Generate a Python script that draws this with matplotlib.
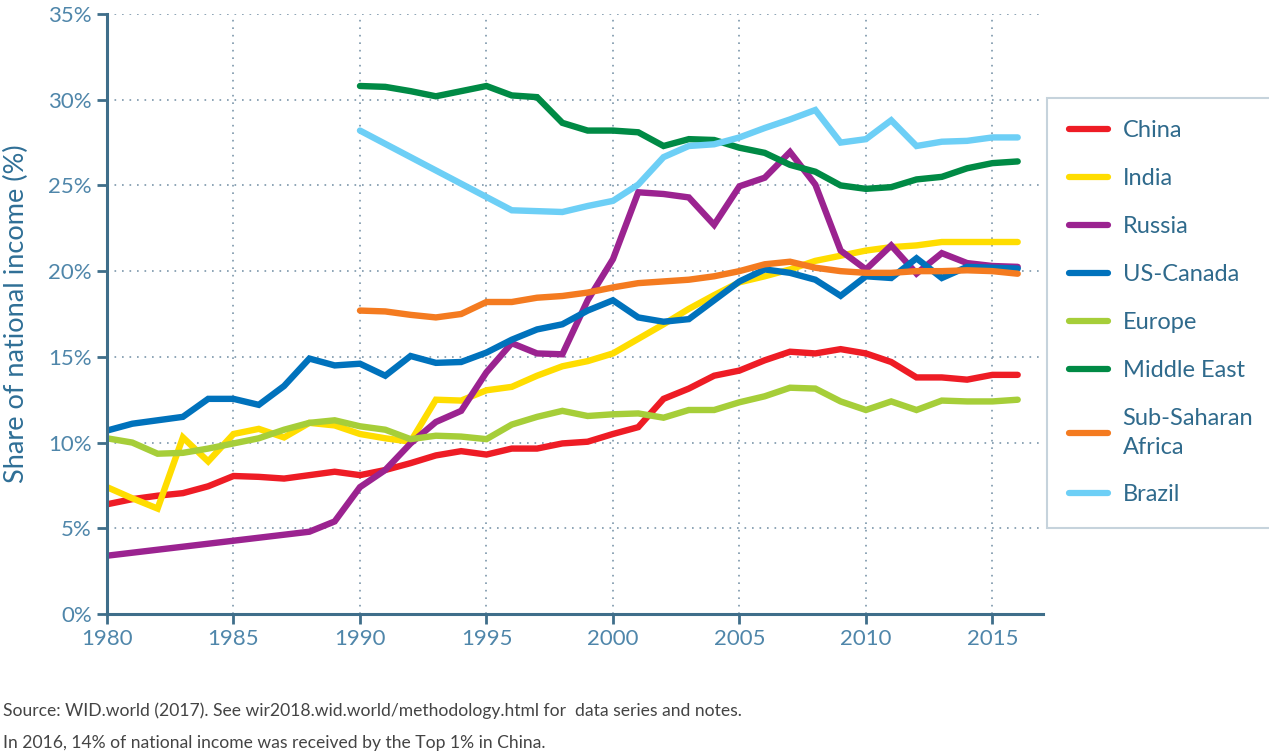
import matplotlib
matplotlib.use("Agg")
import matplotlib.pyplot as plt
from matplotlib.ticker import FuncFormatter, MultipleLocator

plt.rcParams['font.family'] = ['Lato', 'DejaVu Sans']

years_full = list(range(1980, 2017))
years_1990 = list(range(1990, 2017))

china = [6.4, 6.7, 6.9, 7.05, 7.45, 8.05, 8.0, 7.9, 8.1, 8.3,
         8.1, 8.4, 8.8, 9.25, 9.5, 9.3, 9.65, 9.65, 9.95, 10.05,
         10.5, 10.9, 12.55, 13.15, 13.9, 14.2, 14.8, 15.3, 15.2, 15.45,
         15.2, 14.7, 13.8, 13.8, 13.67, 13.95, 13.95]
india = [7.4, 6.75, 6.15, 10.3, 8.9, 10.5, 10.8, 10.3, 11.15, 11.0,
         10.5, 10.25, 10.05, 12.5, 12.45, 13.05, 13.25, 13.9, 14.45, 14.75,
         15.2, 16.05, 16.9, 17.8, 18.6, 19.35, 19.7, 20.1, 20.6, 20.9,
         21.2, 21.4, 21.5, 21.7, 21.7, 21.7, 21.7]
russia_years = [1980, 1988] + list(range(1989, 2017))
russia = [3.4, 4.8, 5.4,
          7.4, 8.4, 9.95, 11.2, 11.85, 14.1, 15.8, 15.2, 15.15, 18.3,
          20.7, 24.6, 24.5, 24.3, 22.7, 24.95, 25.45, 26.95, 25.05, 21.2,
          20.1, 21.5, 19.86, 21.05, 20.47, 20.3, 20.25]
us_canada = [10.7, 11.1, 11.3, 11.5, 12.55, 12.55, 12.2, 13.3, 14.9, 14.5,
             14.6, 13.9, 15.05, 14.65, 14.7, 15.25, 16.0, 16.6, 16.9, 17.7,
             18.3, 17.3, 17.05, 17.2, 18.3, 19.4, 20.1, 19.9, 19.5, 18.56,
             19.7, 19.6, 20.75, 19.6, 20.25, 20.2, 20.15]
europe = [10.25, 10.0, 9.35, 9.4, 9.65, 9.95, 10.25, 10.75, 11.15, 11.3,
          10.95, 10.75, 10.2, 10.4, 10.35, 10.2, 11.05, 11.5, 11.85, 11.55,
          11.65, 11.7, 11.45, 11.9, 11.9, 12.35, 12.7, 13.2, 13.15, 12.4,
          11.9, 12.4, 11.9, 12.45, 12.4, 12.4, 12.5]
middle_east = [30.8, 30.75, 30.5, 30.2, 30.5, 30.8, 30.25, 30.15, 28.65, 28.2,
               28.2, 28.1, 27.3, 27.7, 27.65, 27.2, 26.9, 26.2, 25.8, 25.0,
               24.8, 24.9, 25.35, 25.5, 26.0, 26.3, 26.4]
ssa = [17.7, 17.65, 17.45, 17.3, 17.5, 18.2, 18.2, 18.45, 18.55, 18.75,
       19.05, 19.3, 19.4, 19.5, 19.7, 20.0, 20.4, 20.55, 20.2, 20.0,
       19.9, 19.9, 20.0, 20.0, 20.05, 20.0, 19.85]
brazil_years = [1990] + list(range(1996, 2017))
brazil = [28.2, 23.55, 23.5, 23.45, 23.8, 24.1, 25.05, 26.65, 27.3, 27.4,
          27.8, 28.35, 28.85, 29.4, 27.5, 27.7, 28.8, 27.3, 27.55, 27.6,
          27.8, 27.8]

series = [
    ("China", years_full, china, "#ee1c25"),
    ("India", years_full, india, "#ffdd00"),
    ("Russia", russia_years, russia, "#9b2390"),
    ("US-Canada", years_full, us_canada, "#0072bc"),
    ("Europe", years_full, europe, "#a6ce39"),
    ("Middle East", years_1990, middle_east, "#008a45"),
    ("Sub-Saharan\nAfrica", years_1990, ssa, "#f47b20"),
    ("Brazil", brazil_years, brazil, "#6dcff6"),
]

x_ticks = [1980, 1985, 1990, 1995, 2000, 2005, 2010, 2015]

fig = plt.figure(figsize=(12.69, 7.53), dpi=100)
ax = fig.add_axes([107/1269, 1 - 614/753, (1043-107)/1269, (614-14)/753])

for name, xs, ys, col in series:
    ax.plot(xs, ys, color=col, lw=4.6, label=name, solid_capstyle='round',
            solid_joinstyle='miter')

ax.set_xlim(1980, 2017)
ax.set_ylim(0, 35)
ax.set_xticks(x_ticks)
ax.yaxis.set_major_locator(MultipleLocator(5))
ax.yaxis.set_major_formatter(FuncFormatter(lambda v, p: f"{int(v)}%"))

axis_col = "#3f6e8a"
tick_col = "#4f86aa"
grid_col = "#7b96aa"
for s in ['top', 'right']:
    ax.spines[s].set_visible(False)
for s in ['left', 'bottom']:
    ax.spines[s].set_color(axis_col)
    ax.spines[s].set_linewidth(2.2)
ax.tick_params(axis='both', colors=axis_col, width=2, length=7,
               labelsize=16, labelcolor=tick_col, pad=4)
ax.grid(True, linestyle=(0, (1, 3.5)), color=grid_col, lw=1.2)
ax.set_axisbelow(True)

ax.set_ylabel("Share of national income (%)", fontsize=19.5, color="#2f6f96",
              labelpad=14)

leg = ax.legend(loc='upper left', bbox_to_anchor=(1047/1269, 1 - 98/753),
                bbox_transform=fig.transFigure, frameon=True, fancybox=False,
                fontsize=17, handlelength=1.65, handletextpad=0.6,
                borderpad=0.95, labelspacing=1.14, borderaxespad=0)
leg.get_frame().set_edgecolor("#b8c8d4")
leg.get_frame().set_linewidth(1.5)
for t in leg.get_texts():
    t.set_color("#2f6a8c")
    t.set_linespacing(1.45)
for l in leg.get_lines():
    l.set_linewidth(4.5)

fig.text(3/1269, 1 - 711/753,
         "Source: WID.world (2017). See wir2018.wid.world/methodology.html for  data series and notes.",
         fontsize=12.6, color="#444444", va='center')
fig.text(3/1269, 1 - 743/753,
         "In 2016, 14% of national income was received by the Top 1% in China.",
         fontsize=12.6, color="#444444", va='center')

fig.savefig("out.png", dpi=100)
